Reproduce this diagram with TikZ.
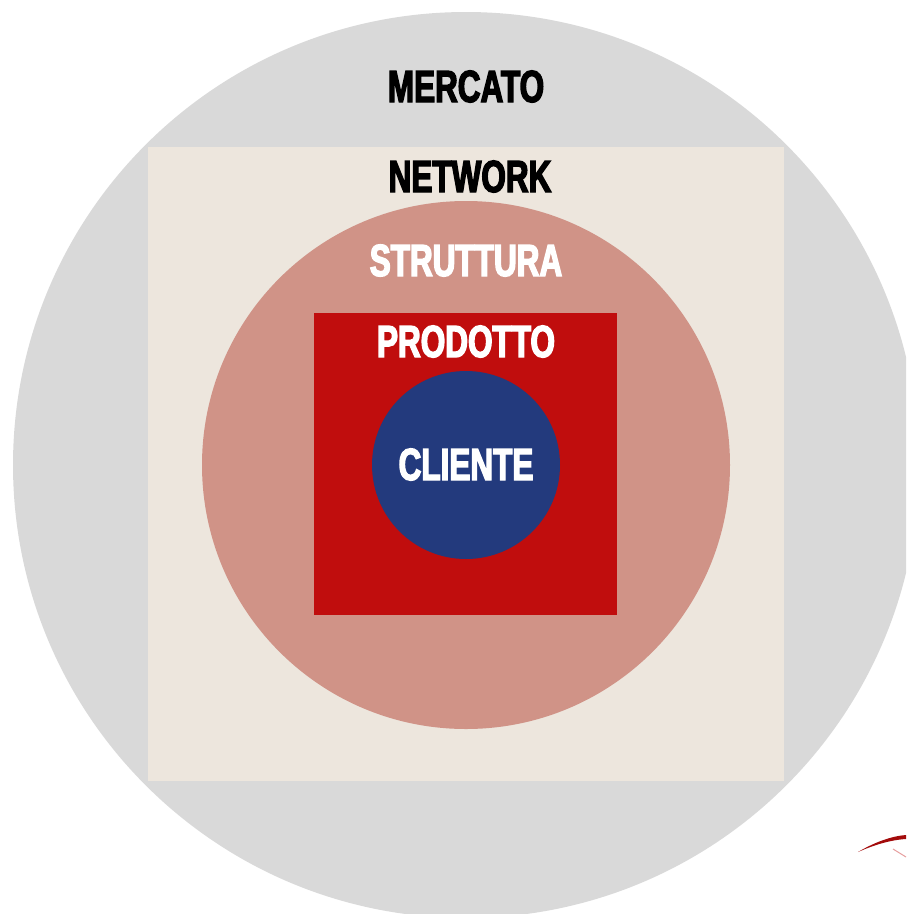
\documentclass[tikz,border=0pt]{standalone}
\usepackage{fontspec}
\newfontfamily\layerfont{Liberation Sans}[FakeStretch=0.7,FakeBold=3]
\definecolor{mercatogray}{RGB}{217,217,217}
\definecolor{networkbeige}{RGB}{237,230,221}
\definecolor{strutturarose}{RGB}{208,147,135}
\definecolor{prodottored}{RGB}{192,13,13}
\definecolor{clienteblue}{RGB}{35,58,125}
\begin{document}
\begin{tikzpicture}[x=1pt,y=-1pt,
  layer/.style={font=\layerfont\bfseries\fontsize{45}{45}\selectfont,anchor=base,inner sep=0pt}]
\useasboundingbox (0,0) rectangle (906,914);
\begin{scope}
\clip (0,0) rectangle (906,914);
\fill[mercatogray] (466,465) circle (453);
\end{scope}
\fill[networkbeige] (148,147) rectangle (784,781);
\fill[strutturarose] (466,465) circle (264);
\fill[prodottored] (314,313) rectangle (617,615);
\fill[clienteblue] (466,465) circle (94);
% labels
\node[layer] (mercato) at (466,102) {MERCATO};
\node[layer] (network) at (470,192) {NETWORK};
\node[layer,white] (struttura) at (466,276) {STRUTTURA};
\node[layer,white] (prodotto) at (466,357) {PRODOTTO};
\node[layer,white] (cliente) at (466,480) {CLIENTE};
% logo fragment
\fill[prodottored!85!black] (858,852) .. controls (875,842) and (892,836) .. (906,835)
  -- (906,839) .. controls (890,840) and (874,845) .. (858,852);
\draw[prodottored!40,line width=1pt] (893,849) -- (906,857);
\end{tikzpicture}
\end{document}
